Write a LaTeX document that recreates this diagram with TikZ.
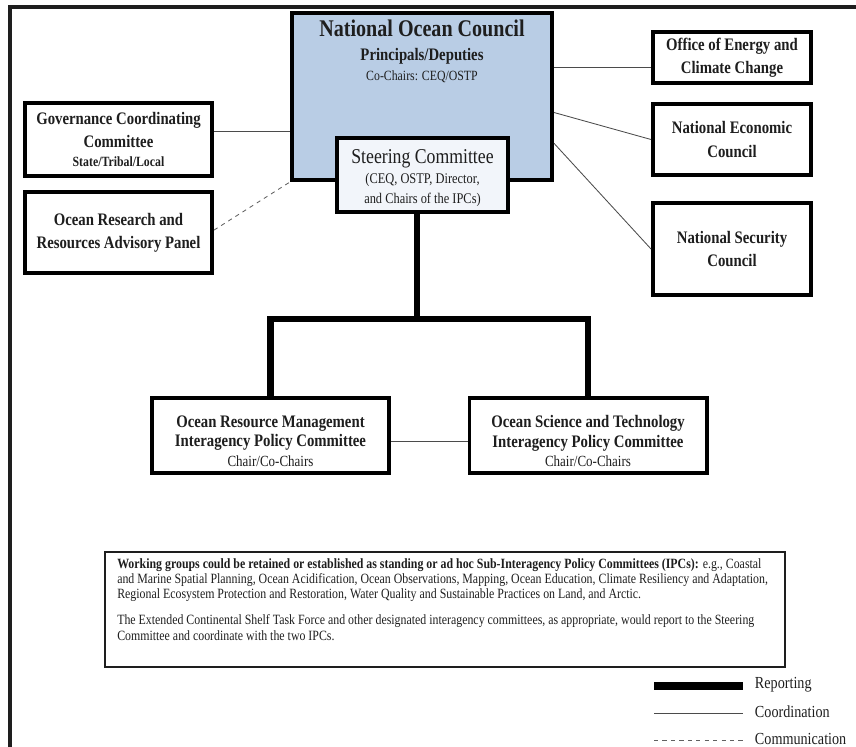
\documentclass[tikz,border=0pt]{standalone}
\usepackage{fontspec}
\setmainfont{Liberation Serif}[FakeStretch=0.84]
\usetikzlibrary{positioning}

\definecolor{nocblue}{RGB}{185,205,229}
\definecolor{steerfill}{RGB}{242,245,250}
\definecolor{ink}{RGB}{30,30,30}

\tikzset{
  unitbox/.style={draw=black,line width=2.8pt,fill=white,inner sep=2pt,align=center,text=ink,
    font=\fontsize{12.5}{16.5}\selectfont\bfseries},
  boxtext/.style={align=center,text=ink,inner sep=0pt},
  report/.style={line width=4.6pt},
  coord/.style={line width=0.6pt,draw=ink!80},
  commline/.style={line width=0.6pt,dashed,draw=ink!70}
}

\begin{document}
\begin{tikzpicture}[x=0.025cm,y=-0.025cm]
\useasboundingbox (0,0) rectangle (856,747);
% outer frame
\draw[line width=2.2pt,ink] (10,747) -- (10,7) -- (856,7);

% council and steering committee
\node[unitbox,fill=nocblue,minimum width=6.5cm,minimum height=4.175cm] (noc) at (422,96.5) {};
\node[boxtext,anchor=north,font=\fontsize{12.5}{17}\selectfont] (noctitle) at (422,20)
  {{\fontsize{17}{19}\selectfont\bfseries National Ocean Council}\\
   {\bfseries Principals/Deputies}\\[-3pt]
   {\fontsize{10}{12}\selectfont Co-Chairs: CEQ/OSTP}};
\node[unitbox,fill=steerfill,minimum width=4.275cm,minimum height=1.85cm] (steer) at (422.5,175) {};
\node[boxtext,font=\fontsize{10.5}{14.5}\selectfont] (steertext) at (422.5,178)
  {{\fontsize{15}{17}\selectfont Steering Committee}\\
   (CEQ, OSTP, Director,\\
   and Chairs of the IPCs)};

% left side
\node[unitbox,minimum width=4.675cm,minimum height=1.825cm] (gov) at (118.5,139.5)
  {Governance Coordinating\\
   Committee\\[-3pt]
   {\fontsize{10}{12}\selectfont State/Tribal/Local}};
\node[unitbox,minimum width=4.675cm,minimum height=2.025cm] (orrap) at (118.5,232.5)
  {Ocean Research and\\
   Resources Advisory Panel};

% right side
\node[unitbox,minimum width=3.95cm,minimum height=1.275cm] (oecc) at (732,57.5)
  {Office of Energy and\\
   Climate Change};
\node[unitbox,minimum width=3.95cm,minimum height=1.775cm] (nec) at (732,139.5)
  {National Economic\\
   Council};
\node[unitbox,minimum width=3.95cm,minimum height=2.3cm] (nsc) at (732,249)
  {National Security\\
   Council};

% policy committees
\node[unitbox,minimum width=5.925cm,minimum height=1.875cm] (orm) at (270.5,435.5) {};
\node[boxtext,font=\fontsize{12.5}{14}\selectfont\bfseries] (ormtext) at (270.5,441)
  {Ocean Resource Management\\
   Interagency Policy Committee\\
   {\fontsize{11}{13}\selectfont\mdseries Chair/Co-Chairs}};
\node[unitbox,minimum width=5.925cm,minimum height=1.875cm] (ost) at (588,435.5) {};
\node[boxtext,font=\fontsize{12.5}{14}\selectfont\bfseries] (osttext) at (588,441)
  {Ocean Science and Technology\\
   Interagency Policy Committee\\
   {\fontsize{11}{13}\selectfont\mdseries Chair/Co-Chairs}};

% reporting
\coordinate (split) at (417,319);
\draw[report] (steer.south -| split) -- (split);
\draw[report] (orm.north) |- (split) -| (ost.north);

% coordination
\draw[coord] ([yshift=0.2cm]gov.east) -- ([yshift=0.2cm]gov.east -| noc.west);
\draw[coord] ([yshift=-0.26cm]oecc.west -| noc.east) -- ([yshift=-0.26cm]oecc.west);
\draw[coord] ([yshift=-0.4cm]noc.east) -- (nec.west);
\draw[coord] ([yshift=-1.17cm]noc.east) -- (nsc.west);
\draw[coord] ([yshift=-0.16cm]orm.east) -- ([yshift=-0.16cm]ost.west);

% communication
\draw[commline] ([yshift=0.06cm]orrap.east) -- (noc.south west);

% note
\node[draw=ink,line width=0.9pt,minimum width=17cm,minimum height=2.875cm] (note) at (445,609.5) {};
\node[anchor=north west,align=left,text=ink,font=\fontsize{10.05}{10.8}\selectfont] (notetext)
  at ([xshift=0.2cm,yshift=-0.05cm]note.north west)
  {\textbf{Working groups could be retained or established as standing or ad hoc Sub-Interagency Policy Committees (IPCs):} e.g., Coastal\\
   and Marine Spatial Planning, Ocean Acidification, Ocean Observations, Mapping, Ocean Education, Climate Resiliency and Adaptation,\\
   Regional Ecosystem Protection and Restoration, Water Quality and Sustainable Practices on Land, and Arctic.\\[8pt]
   The Extended Continental Shelf Task Force and other designated interagency committees, as appropriate, would report to the Steering\\
   Committee and coordinate with the two IPCs.};

% legend
\coordinate (rep1) at (654,686);  \coordinate (rep2) at (743,686);
\coordinate (coo1) at (654,713);  \coordinate (coo2) at (743,713);
\coordinate (com1) at (654,740);  \coordinate (com2) at (743,740);
\draw[report,line width=5pt] (rep1) -- (rep2);
\draw[coord] (coo1) -- (coo2);
\draw[commline] (com1) -- (com2);
\node[anchor=west,text=ink,font=\fontsize{12}{14}\selectfont] (replabel) at (750,685) {Reporting};
\node[anchor=west,text=ink,font=\fontsize{12}{14}\selectfont] (coolabel) at (750,712) {Coordination};
\node[anchor=west,text=ink,font=\fontsize{12}{14}\selectfont] (comlabel) at (750,739) {Communication};
\end{tikzpicture}
\end{document}
